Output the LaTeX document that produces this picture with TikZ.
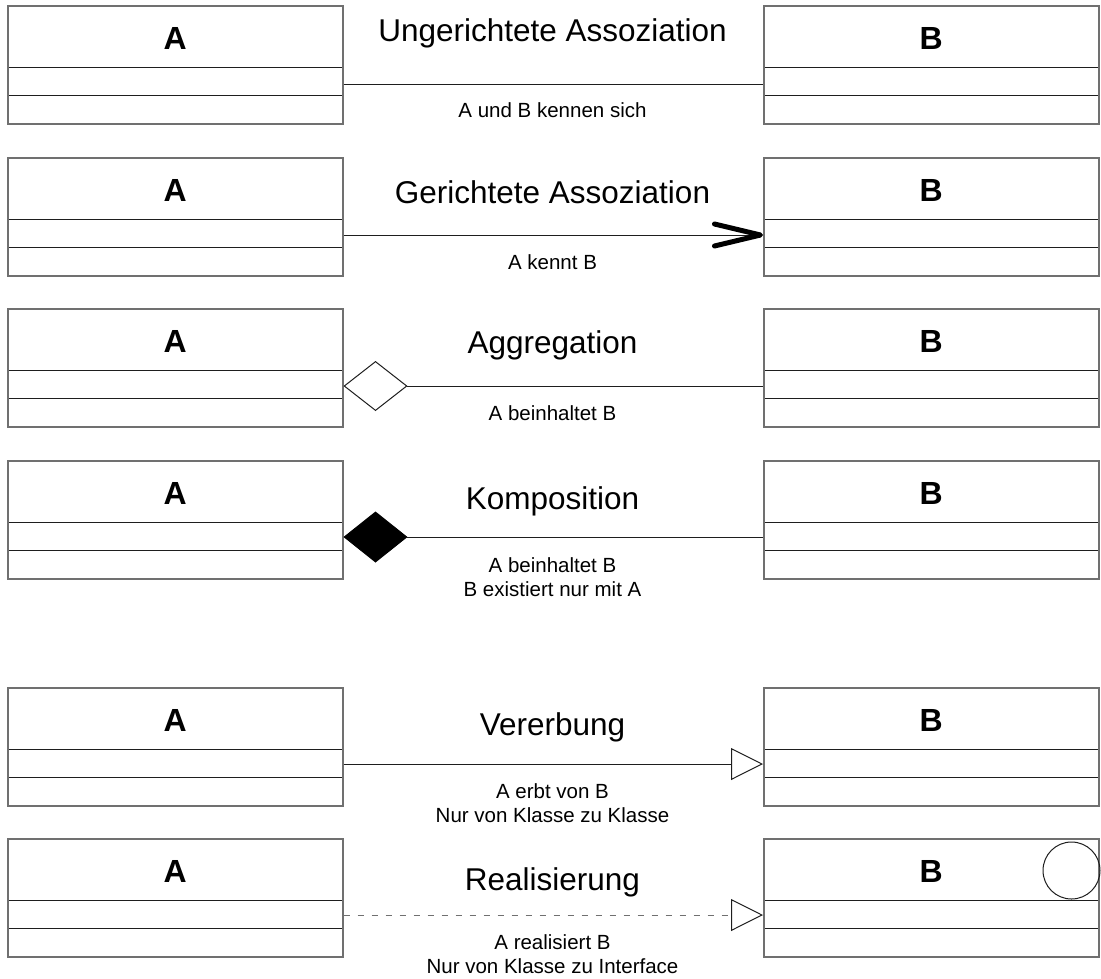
\documentclass[tikz,border=0pt]{standalone}
\usepackage{fontspec}
\setmainfont{Liberation Sans}
\usetikzlibrary{arrows.meta, calc}
\definecolor{umlrahmen}{RGB}{112,112,112}
\definecolor{umllinie}{RGB}{30,30,30}
\tikzset{
    klasse/.style={draw=umlrahmen, line width=1.5pt, minimum width=335pt, minimum height=118pt,
                   inner sep=0pt, anchor=north west,
                   path picture={
                       \draw[umllinie, line width=1.3pt] ([yshift=-62pt]path picture bounding box.north west) -- ([yshift=-62pt]path picture bounding box.north east);
                       \draw[umllinie, line width=1.3pt] ([yshift=-90pt]path picture bounding box.north west) -- ([yshift=-90pt]path picture bounding box.north east);
                   }},
    klassname/.style={font=\fontsize{32}{38}\selectfont\bfseries, anchor=base, inner sep=0pt},
    titel/.style={font=\fontsize{31.5}{38}\selectfont, anchor=base, inner sep=0pt},
    hinweis/.style={font=\fontsize{20.5}{24}\selectfont, align=center, anchor=base, inner sep=0pt},
    verbindung/.style={draw=umllinie, line width=1pt},
    gerichtet/.style={verbindung, -{Straight Barb[length=46pt, width=22pt, line width=5pt, round, color=black]}},
    aggregat/.style={verbindung, {Diamond[open, length=64pt, width=50pt, line width=1pt]}-},
    komposit/.style={verbindung, {Diamond[length=64pt, width=51pt, color=black]}-},
    erbt/.style={verbindung, -{Triangle[open, length=32pt, width=32pt, line width=1pt, color=umllinie]}},
    realisiert/.style={erbt, draw=umlrahmen, dash pattern=on 6.5pt off 7.5pt},
}
% Klasse mit drei Abteilungen: Name, x links, y oben, Beschriftung
\newcommand{\umlklasse}[4]{%
    \node[klasse] (#1) at (#2,#3) {};
    \node[klassname] (#1name) at ($(#1.north)+(0,44)$) {#4};
}

\begin{document}
\begin{tikzpicture}[x=1pt, y=-1pt]
    \useasboundingbox (0,0) rectangle (1101,978);
    % Ungerichtete Assoziation
    \umlklasse{a1}{7}{5}{A}
    \umlklasse{b1}{763}{5}{B}
    \node[titel] (t1) at (552.5,41) {Ungerichtete Assoziation};
    \draw[verbindung] ($(a1.north east)+(0,79)$) -- ($(b1.north west)+(0,79)$);
    \node[hinweis] (h1) at (552.5,117) {A und B kennen sich};
    % Gerichtete Assoziation
    \umlklasse{a2}{7}{157}{A}
    \umlklasse{b2}{763}{157}{B}
    \node[titel] (t2) at (552.5,203) {Gerichtete Assoziation};
    \draw[gerichtet] ($(a2.north east)+(0,78)$) -- ($(b2.north west)+(0,78)$);
    \node[hinweis] (h2) at (552.5,269) {A kennt B};
    % Aggregation
    \umlklasse{a3}{7}{308}{A}
    \umlklasse{b3}{763}{308}{B}
    \node[titel] (t3) at (552.5,353) {Aggregation};
    \draw[aggregat] ($(a3.north east)+(0,78)$) -- ($(b3.north west)+(0,78)$);
    \node[hinweis] (h3) at (552.5,420) {A beinhaltet B};
    % Komposition
    \umlklasse{a4}{7}{460}{A}
    \umlklasse{b4}{763}{460}{B}
    \node[titel] (t4) at (552.5,509) {Komposition};
    \draw[komposit] ($(a4.north east)+(0,77)$) -- ($(b4.north west)+(0,77)$);
    \node[hinweis] (h4) at (552.5,596) {A beinhaltet B\\B existiert nur mit A};
    % Vererbung
    \umlklasse{a5}{7}{687}{A}
    \umlklasse{b5}{763}{687}{B}
    \node[titel] (t5) at (552.5,735) {Vererbung};
    \draw[erbt] ($(a5.north east)+(0,77)$) -- ($(b5.north west)+(0,77)$);
    \node[hinweis] (h5) at (552.5,822) {A erbt von B\\Nur von Klasse zu Klasse};
    % Realisierung
    \umlklasse{a6}{7}{838}{A}
    \umlklasse{b6}{763}{838}{B}
    \node[draw=umllinie, line width=1pt, circle, minimum size=57pt, inner sep=0pt] (schnitt) at ($(b6.north east)+(-28,32.5)$) {};
    \node[titel] (t6) at (552.5,890) {Realisierung};
    \draw[realisiert] ($(a6.north east)+(0,77)$) -- ($(b6.north west)+(0,77)$);
    \node[hinweis] (h6) at (552.5,973) {A realisiert B\\Nur von Klasse zu Interface};
\end{tikzpicture}
\end{document}
